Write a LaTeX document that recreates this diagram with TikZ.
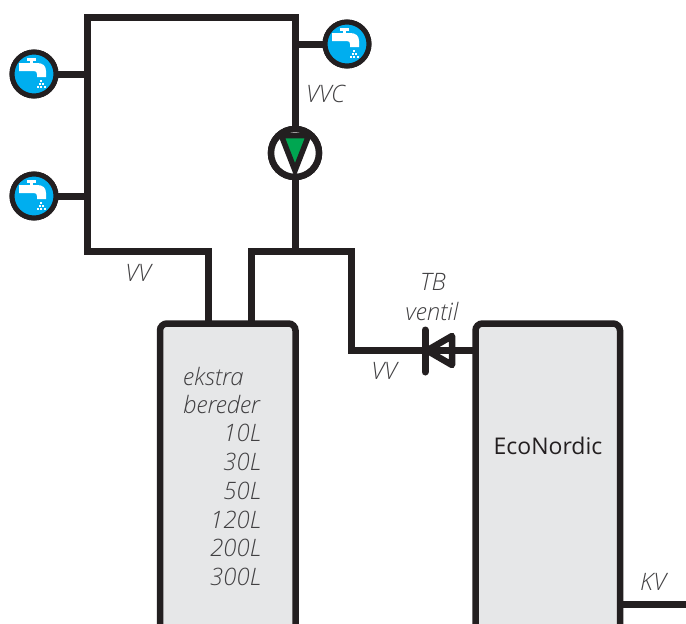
\documentclass[tikz,border=0pt]{standalone}
\usepackage{fontspec}
\setmainfont{Open Sans}
\newfontfamily\lightit{Open Sans Light Italic}
\definecolor{ink}{HTML}{231F20}
\definecolor{tank}{HTML}{E6E7E8}
\definecolor{tapblue}{HTML}{00AEEF}
\definecolor{pumpgreen}{HTML}{00A651}
\definecolor{txt}{HTML}{414042}
\tikzset{
  x=1pt,y=-1pt,
  pipe/.style={draw=ink,line width=7pt,line cap=butt,line join=miter},
  tankbox/.style={draw=ink,fill=tank,line width=6.5pt,rounded corners=7pt,outer sep=0pt,inner sep=0pt,anchor=north west},
  lbl/.style={inner sep=0pt,font=\fontsize{24}{26}\selectfont\lightit,text=txt},
  tapnode/.style={circle,draw=ink,fill=tapblue,line width=5pt,minimum size=44pt,inner sep=0pt,outer sep=0pt},
  pumpnode/.style={circle,draw=ink,fill=white,line width=6.5pt,minimum size=48pt,inner sep=0pt,outer sep=0pt},
}
\newcommand{\tapicon}[1]{%
  \begin{scope}[shift={(#1)}]
    \fill[white] (-15,-11) -- (3,-11) .. controls (9,-11) and (12,-8) .. (12,-3) -- (12,3) -- (3,3) -- (3,0) .. controls (3,-2) and (2,-3) .. (0,-3) -- (-15,-3) -- cycle;
    \fill[white] (-7.3,-15.7) rectangle (2,-13.3);
    \fill[white] (-3.8,-15) rectangle (-1,-11);
    \foreach \px/\py in {7/7,5.5/10,8.5/10,3.5/13,7/13,10.5/13}
      \fill[white] (\px-1,\py-1) rectangle (\px+1,\py+1);
  \end{scope}}
\begin{document}
\begin{tikzpicture}
\useasboundingbox (0,0) rectangle (686,624);
% tanks
\begin{scope}
\clip (0,0) rectangle (686,624);
\node[tankbox,minimum width=135.5pt,minimum height=320pt] (beredertank) at (160,323.5) {};
\node[tankbox,minimum width=144.5pt,minimum height=320pt] (ecotank) at (475.5,323.5) {};
\end{scope}
% junctions
\coordinate (tl) at (87,17);
\coordinate (tr) at (295,17);
\coordinate (bl) at (87,251);
\coordinate (bm) at (208,251);
\coordinate (bm2) at (251,251);
\coordinate (br) at (295,251);
\coordinate (brr) at (351,251);
\coordinate (vv) at (351,350.5);
\coordinate (kvend) at (686,604);
\coordinate (j1) at (87,74);
\coordinate (j2) at (87,196);
\coordinate (j3) at (295,44);
% taps and pump
\node[tapnode] (tapA) at (34,74) {};
\node[tapnode] (tapB) at (34,196) {};
\node[tapnode] (tapC) at (347,44) {};
\node[pumpnode] (pump) at (295,153) {};
\coordinate (valve) at (425,350.5);
% pipes
\draw[pipe] (bm |- beredertank.north) -- (bm) -- (bl) -- (tl) -- (tr) -- (pump.north);
\draw[pipe] (pump.south) -- (br);
\draw[pipe] (tapA.east) -- (j1);
\draw[pipe] (tapB.east) -- (j2);
\draw[pipe] (tapC.west) -- (j3);
\draw[pipe] (ecotank.east |- kvend) -- (kvend);
% redraw pump and taps on top
\node[pumpnode] at (pump) {};
\fill[pumpgreen,draw=ink,line width=5.5pt,line join=miter,miter limit=10] (281.3,135.5) -- (308.7,135.5) -- (295,170.5) -- cycle;
\node[tapnode] at (tapA) {};
\node[tapnode] at (tapB) {};
\node[tapnode] at (tapC) {};
\tapicon{34,74}
\tapicon{34,196}
\tapicon{347,44}
% valve
\draw[ink,line width=7pt,line cap=round] (425,330) -- (425,372);
\draw[ink,fill=white,line width=6.5pt,line join=round] (427,350.5) -- (452,336) -- (452,365) -- cycle;
\draw[pipe] (bm2 |- beredertank.north) -- (bm2) -- (brr) -- (vv) -- (valve);
\draw[pipe] (valve) -- (ecotank.west |- valve);
% texts
\node[lbl] (tVVC) at (325.5,94) {VVC};
\node[lbl] (tVV) at (138,273) {VV};
\node[lbl] (tTB) at (433,282) {TB};
\node[lbl] (tVentil) at (432,311) {ventil};
\node[lbl] (tVV2) at (384,371) {VV};
\node[lbl] (tKV) at (653,582) {KV};
\node[inner sep=0pt,font=\fontsize{23}{26}\selectfont,text=ink] (tEco) at (548,446) {EcoNordic};
\node[lbl,anchor=west] (t1) at (183,376) {ekstra};
\node[lbl,anchor=west] (t2) at (183,404) {bereder};
\node[lbl,anchor=east] (t3) at (261,433) {10L};
\node[lbl,anchor=east] (t4) at (261,462) {30L};
\node[lbl,anchor=east] (t5) at (261,491) {50L};
\node[lbl,anchor=east] (t6) at (261,520) {120L};
\node[lbl,anchor=east] (t7) at (261,548) {200L};
\node[lbl,anchor=east] (t8) at (261,577) {300L};
\end{tikzpicture}
\end{document}
